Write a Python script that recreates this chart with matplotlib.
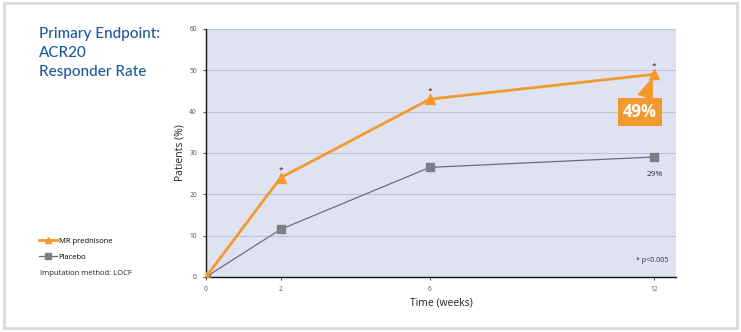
import matplotlib.pyplot as plt
from matplotlib.patches import FancyBboxPatch

weeks = [0, 2, 6, 12]
mr_prednisone = [0, 24, 43, 49]
placebo = [0, 11.5, 26.5, 29]
significant = [False, True, True, True]
y_ticks = [0, 10, 20, 30, 40, 50, 60]

orange = '#f39a2e'
grey_marker = '#7c7f86'
grey_line = '#6b6e78'
blue_title = '#1c5aa0'
panel = '#dfe3f1'

plt.rcParams['font.family'] = ['Open Sans', 'DejaVu Sans']

fig = plt.figure(figsize=(7.41, 3.32), dpi=100)

# outer card frame
frame = FancyBboxPatch((0.006, 0.012), 0.988, 0.978, boxstyle='square,pad=0',
                       transform=fig.transFigure, fc='none', ec='#d9d9d9', lw=2,
                       zorder=-1)
fig.patches.append(frame)

fig.text(0.053, 0.918, 'Primary Endpoint:\nACR20\nResponder Rate', color=blue_title,
         fontsize=11, va='top', ha='left', linespacing=1.45, family=['Lato', 'DejaVu Sans'],
         fontweight='medium')

ax = fig.add_axes([0.278, 0.166, 0.634, 0.747])
ax.set_facecolor(panel)
ax.plot(weeks, placebo, color=grey_line, lw=0.9, marker='s', ms=6,
        mfc=grey_marker, mec=grey_marker, label='Placebo', zorder=3)
ax.plot(weeks, mr_prednisone, color=orange, lw=2, marker='^', ms=6.5,
        mfc=orange, mec=orange, label='MR prednisone', zorder=4)

for w, v, s in zip(weeks, mr_prednisone, significant):
    if s:
        ax.annotate('*', (w, v), xytext=(0, 3), textcoords='offset points',
                    ha='center', va='bottom', fontsize=6, color='#222222')

ax.annotate(f'{mr_prednisone[-1]}%', xy=(weeks[-1], mr_prednisone[-1]),
            xytext=(-10, -27), textcoords='offset points', ha='center', va='center',
            fontsize=12, color='white', fontweight='bold',
            bbox=dict(boxstyle='square,pad=0.32', fc=orange, ec='none'),
            arrowprops=dict(arrowstyle='wedge,tail_width=1.0,shrink_factor=0.5',
                            fc=orange, ec='none', shrinkA=0, shrinkB=2))
ax.annotate(f'{placebo[-1]}%', xy=(weeks[-1], placebo[-1]), xytext=(1, -10),
            textcoords='offset points', ha='center', va='top', fontsize=6,
            color='#333333')
ax.text(0.985, 0.05, '* p<0.005', transform=ax.transAxes, ha='right', va='bottom',
        fontsize=5, color='#333333')

ax.set_xlim(0, 12.59)
ax.set_ylim(0, 60)
ax.set_xticks(weeks)
ax.set_yticks(y_ticks)
ax.tick_params(labelsize=4.8, colors='#555555', length=2.5, width=0.8, pad=4)
ax.grid(axis='y', color='#bcc4da', lw=0.8)
ax.set_axisbelow(True)
for side in ('top', 'right'):
    ax.spines[side].set_visible(False)
for side in ('left', 'bottom'):
    ax.spines[side].set_color('#111111')
    ax.spines[side].set_linewidth(1)
ax.set_ylabel('Patients (%)', fontsize=7.5, color='#222222', labelpad=3)
ax.set_xlabel('Time (weeks)', fontsize=7.5, color='#222222', labelpad=3)

handles, labels = ax.get_legend_handles_labels()
fig.legend(handles[::-1], labels[::-1], loc='upper left', bbox_to_anchor=(0.043, 0.305),
           frameon=False, fontsize=5.5, handlelength=2.4, handletextpad=0.2,
           labelspacing=1.1, markerscale=0.7)
fig.text(0.054, 0.175, 'Imputation method: LOCF', fontsize=5.5, color='#222222',
         va='center')

fig.savefig('out.png', dpi=100)
